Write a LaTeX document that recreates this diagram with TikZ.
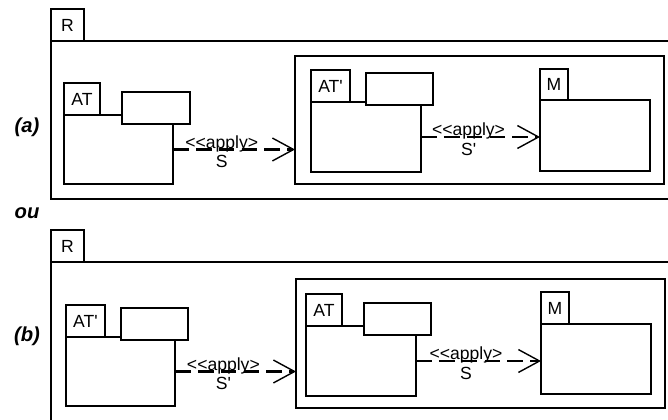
\documentclass[tikz,border=0pt]{standalone}
\usepackage{fontspec}
\setmainfont{Liberation Sans}
\usepackage{tikz}
\usetikzlibrary{positioning, arrows.meta}

\begin{document}
\begin{tikzpicture}[
  x=0.02cm, y=-0.02cm,
  frame/.style={draw, line width=0.8pt, inner sep=0pt, outer sep=0pt,
    anchor=north west},
  tab/.style={frame, anchor=south west, minimum height=0.64cm,
    font=\fontsize{10}{12}\selectfont},
  body/.style={frame, fill=white, minimum width=2.2cm, minimum height=1.4cm},
  slot/.style={frame, fill=white, minimum width=1.34cm, minimum height=0.64cm},
  dep/.style={line width=1.6pt, dash pattern=on 9pt off 4pt,
    -{Straight Barb[length=12pt, width=13pt, line width=0.8pt]}},
  stereo/.style={font=\fontsize{10}{12}\selectfont, inner sep=0pt,
    anchor=base},
  tag/.style={font=\fontsize{11.5}{13}\selectfont\bfseries\itshape},
]
\clip (0,0) rectangle (668,419);

% === (a) ===
\node[tag] (lblA) at (27,127) {(a)};
\node[frame, minimum width=13cm, minimum height=3.16cm] (ra) at (51,41) {};
\node[tab, minimum width=0.66cm] (raTab) at (ra.north west) {R};

\node[frame, minimum width=7.38cm, minimum height=2.56cm] (ia) at (295,56) {};

% AT
\node[body, minimum width=2.18cm, minimum height=1.38cm] (atA) at (64,115) {};
\node[tab, minimum width=0.72cm] (atATab) at (atA.north west) {AT};
\node[slot, minimum width=1.36cm] (atASlot) at (122,92) {};

% AT'
\node[body] (atpA) at (311,102) {};
\node[tab, minimum width=0.78cm] (atpATab) at (atpA.north west)
  {AT\textquotesingle};
\node[slot] (atpASlot) at (366,73) {};

% M
\node[body, minimum height=1.42cm] (mA) at (540,100) {};
\node[tab, minimum width=0.56cm, minimum height=0.62cm] (mATab)
  at (mA.north west) {M};

% apply arrows
\draw[dep] (atA.east) -- (atA.east -| ia.west)
  node[stereo, pos=0.4, yshift=0.8pt] {<{}<apply>}
  node[stereo, pos=0.4, yshift=-10.5pt] {S};
\draw[dep] (atpA.east) -- (atpA.east -| mA.west)
  node[stereo, pos=0.4, yshift=0.8pt] {<{}<apply>}
  node[stereo, pos=0.4, yshift=-10.5pt] {S\textquotesingle};

\node[tag] (ou) at (27,213) {ou};

% === (b) ===
\node[tag] (lblB) at (27,336) {(b)};
\node[frame, minimum width=13cm, minimum height=3.4cm] (rb) at (51,262) {};
\node[tab, minimum width=0.66cm] (rbTab) at (rb.north west) {R};

\node[frame, minimum width=7.38cm, minimum height=2.58cm] (ib) at (296,279) {};

% AT'
\node[body, minimum width=2.18cm, minimum height=1.38cm] (atpB) at (66,337) {};
\node[tab, minimum width=0.78cm] (atpBTab) at (atpB.north west)
  {AT\textquotesingle};
\node[slot] (atpBSlot) at (121,308) {};

% AT
\node[body] (atB) at (306,326) {};
\node[tab, minimum width=0.72cm] (atBTab) at (atB.north west) {AT};
\node[slot] (atBSlot) at (364,303) {};

% M
\node[body] (mB) at (541,324) {};
\node[tab, minimum width=0.56cm] (mBTab) at (mB.north west) {M};

% apply arrows
\draw[dep] (atpB.east) -- (atpB.east -| ib.west)
  node[stereo, pos=0.4, yshift=0.8pt] {<{}<apply>}
  node[stereo, pos=0.4, yshift=-10.5pt] {S\textquotesingle};
\draw[dep] (atB.east) -- (atB.east -| mB.west)
  node[stereo, pos=0.4, yshift=0.8pt] {<{}<apply>}
  node[stereo, pos=0.4, yshift=-10.5pt] {S};

\end{tikzpicture}
\end{document}
